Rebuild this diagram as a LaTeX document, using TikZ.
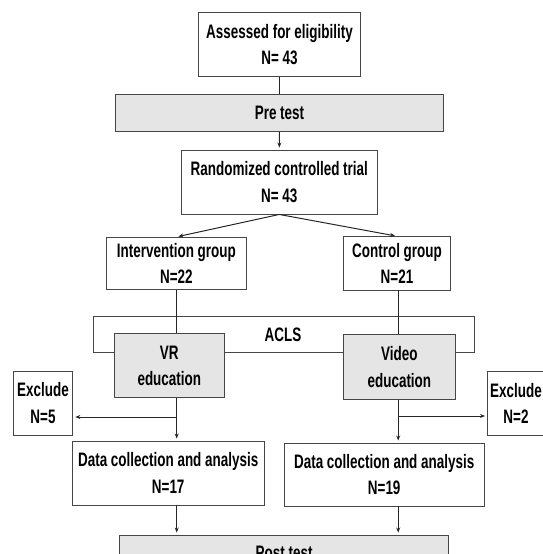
\documentclass[tikz,border=0pt]{standalone}
\usepackage{fontspec}
\setmainfont{Liberation Sans}[FakeStretch=0.69]
\usetikzlibrary{arrows.meta,calc}
\definecolor{boxfill}{RGB}{229,229,229}
\definecolor{boxline}{RGB}{70,70,70}
\begin{document}
\begin{tikzpicture}[x=1pt,y=-1pt,
  every node/.style={font=\fontsize{19.5}{26.7}\selectfont\bfseries, align=center, inner sep=0pt},
  whitebox/.style={draw=boxline, line width=0.9pt, fill=white, rectangle},
  graybox/.style={draw=boxline, line width=0.9pt, fill=boxfill, rectangle},
  conn/.style={draw=black!85, line width=1pt},
  arr/.style={conn, -{Stealth[length=5pt,width=4pt]}, shorten >=2pt}]
\useasboundingbox (0,0) rectangle (543,554);
\clip (0,0) rectangle (543,554);
% ACLS frame (behind the gray boxes)
\draw[draw=boxline, line width=0.9pt] (93.5,316.4) rectangle (474.7,352.8);
\node (acls) at (283,335) {ACLS};
% boxes
\node[whitebox, minimum width=162pt, minimum height=63.4pt] (assess) at (279.5,44.5) {Assessed for eligibility\\N= 43};
\node[graybox, minimum width=328pt, minimum height=37pt] (pre) at (279.5,113) {Pre test};
\node[whitebox, minimum width=196.7pt, minimum height=64pt] (rct) at (279.3,182) {Randomized controlled trial\\N= 43};
\node[whitebox, minimum width=139.3pt, minimum height=52.3pt] (inter) at (176.4,263.5) {Intervention group\\N=22};
\node[whitebox, minimum width=106.7pt, minimum height=53.3pt] (ctrl) at (397,263.3) {Control group\\N=21};
\node[graybox, minimum width=110.5pt, minimum height=64.1pt] (vr) at (169.3,365.8) {VR\\education};
\node[graybox, minimum width=111.3pt, minimum height=64.8pt] (video) at (399.4,367.1) {Video\\education};
\node[whitebox, minimum width=59.8pt, minimum height=64pt] (exl) at (43,403) {Exclude\\N=5};
\node[whitebox, minimum width=57pt, minimum height=64.6pt] (exr) at (516,403.3) {Exclude\\N=2};
\node[whitebox, minimum width=192.4pt, minimum height=64pt] (datal) at (168.2,473) {Data collection and analysis\\N=17};
\node[whitebox, minimum width=200.4pt, minimum height=63pt] (datar) at (384.2,474.5) {Data collection and analysis\\N=19};
\node[graybox, minimum width=329.2pt, minimum height=36pt] (post) at (284.1,553) {Post test};
% helper coordinates
\coordinate (lx) at (176.7,0);
\coordinate (rx) at (398.2,0);
\coordinate (lbr) at (176.7,417);
\coordinate (rbr) at (398.2,416);
% connectors
\draw[conn] (assess.south) -- (pre.north);
\draw[arr] (pre.south) -- (rct.north);
\draw[arr] (rct.south) -- (inter.north);
\draw[arr] (rct.south) -- (ctrl.north);
\draw[conn] (inter.south -| lx) -- (vr.north -| lx);
\draw[conn] (ctrl.south -| rx) -- (video.north -| rx);
\draw[arr] (vr.south -| lx) -- (datal.north -| lx);
\draw[arr] (video.south -| rx) -- (datar.north -| rx);
\draw[arr] (lbr) -- (exl.east |- lbr);
\draw[arr] (rbr) -- (exr.west |- rbr);
\draw[arr] (datal.south -| lx) -- (post.north -| lx);
\draw[arr] (datar.south -| rx) -- (post.north -| rx);
\end{tikzpicture}
\end{document}
